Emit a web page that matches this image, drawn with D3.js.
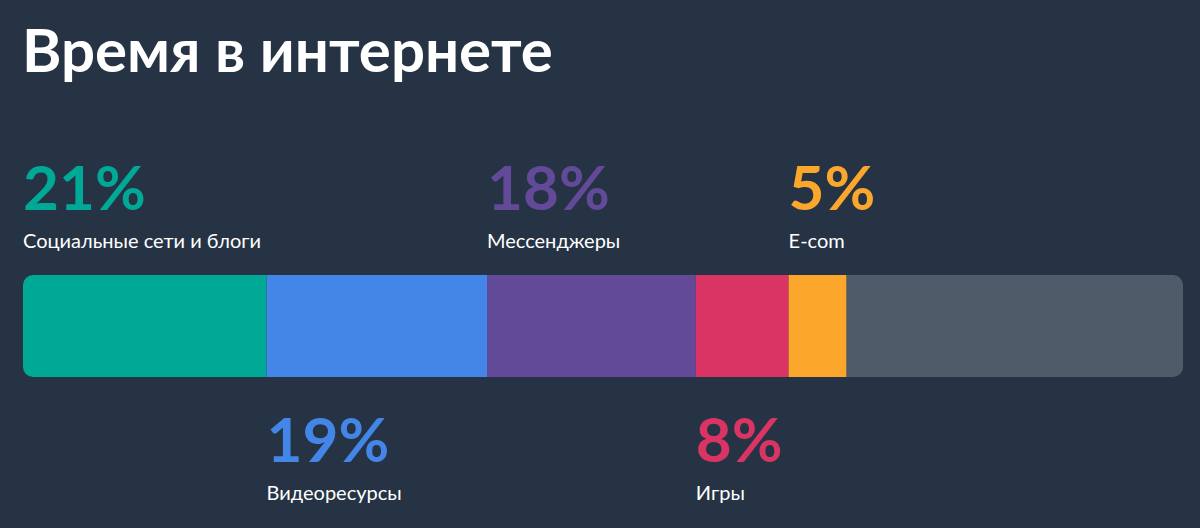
<!DOCTYPE html>
<html><head><meta charset="utf-8">
<script src="https://cdn.jsdelivr.net/npm/d3@7"></script>
<style>
body{margin:0;background:#253345;}
text{font-family:Lato,"Noto Sans",sans-serif;}
</style></head>
<body><div class="chartHolder"></div>
<script>
const categories = ['Социальные сети и блоги', 'Видеоресурсы', 'Мессенджеры', 'Игры', 'E-com', 'Другое']
const values = [21, 19, 18, 8, 5, 29]
const colors = ['#00a896', '#4486e8', '#634a98', '#d93464', '#fba72c', '#4e5c6a']
const showLabel = [true, true, true, true, true, false]

const width = 1200, height = 528
const margin = {left: 23, right: 17}
const barTop = 275, barH = 102

const svg = d3.select('.chartHolder').append('svg')
  .attr('width', width).attr('height', height)

svg.append('rect').attr('width', width).attr('height', height).attr('fill', '#253345')

svg.append('text')
  .attr('x', 22).attr('y', 72)
  .attr('fill', '#fff')
  .style('font-size', '60px').style('font-weight', 700)
  .text('Время в интернете')

var starts = []
var acc = 0
values.forEach(v => { starts.push(acc); acc += v })

var x = d3.scaleLinear().domain([0, d3.sum(values)]).range([margin.left, width - margin.right])

svg.append('clipPath').attr('id', 'barclip')
  .append('rect')
  .attr('x', x(0)).attr('y', barTop)
  .attr('width', x(acc) - x(0)).attr('height', barH)
  .attr('rx', 10)

svg.append('g').attr('clip-path', 'url(#barclip)')
  .selectAll('rect')
  .data(values)
  .enter()
  .append('rect')
  .attr('x', (d, i) => x(starts[i]))
  .attr('y', barTop)
  .attr('width', d => x(d) - x(0))
  .attr('height', barH)
  .attr('fill', (d, i) => colors[i])

var labels = svg.selectAll('g.lab')
  .data(values.map((v, i) => i).filter(i => showLabel[i]))
  .enter()
  .append('g')
  .attr('class', 'lab')
  .attr('transform', i => `translate(${x(starts[i])},${i % 2 === 0 ? 210 : 462})`)

labels.append('text')
  .attr('fill', i => colors[i])
  .style('font-size', '62px').style('font-weight', 700)
  .text(i => values[i] + '%')
labels.append('text')
  .attr('y', 38)
  .attr('fill', '#fff')
  .style('font-size', '20px')
  .text(i => categories[i])
</script>
</body></html>
